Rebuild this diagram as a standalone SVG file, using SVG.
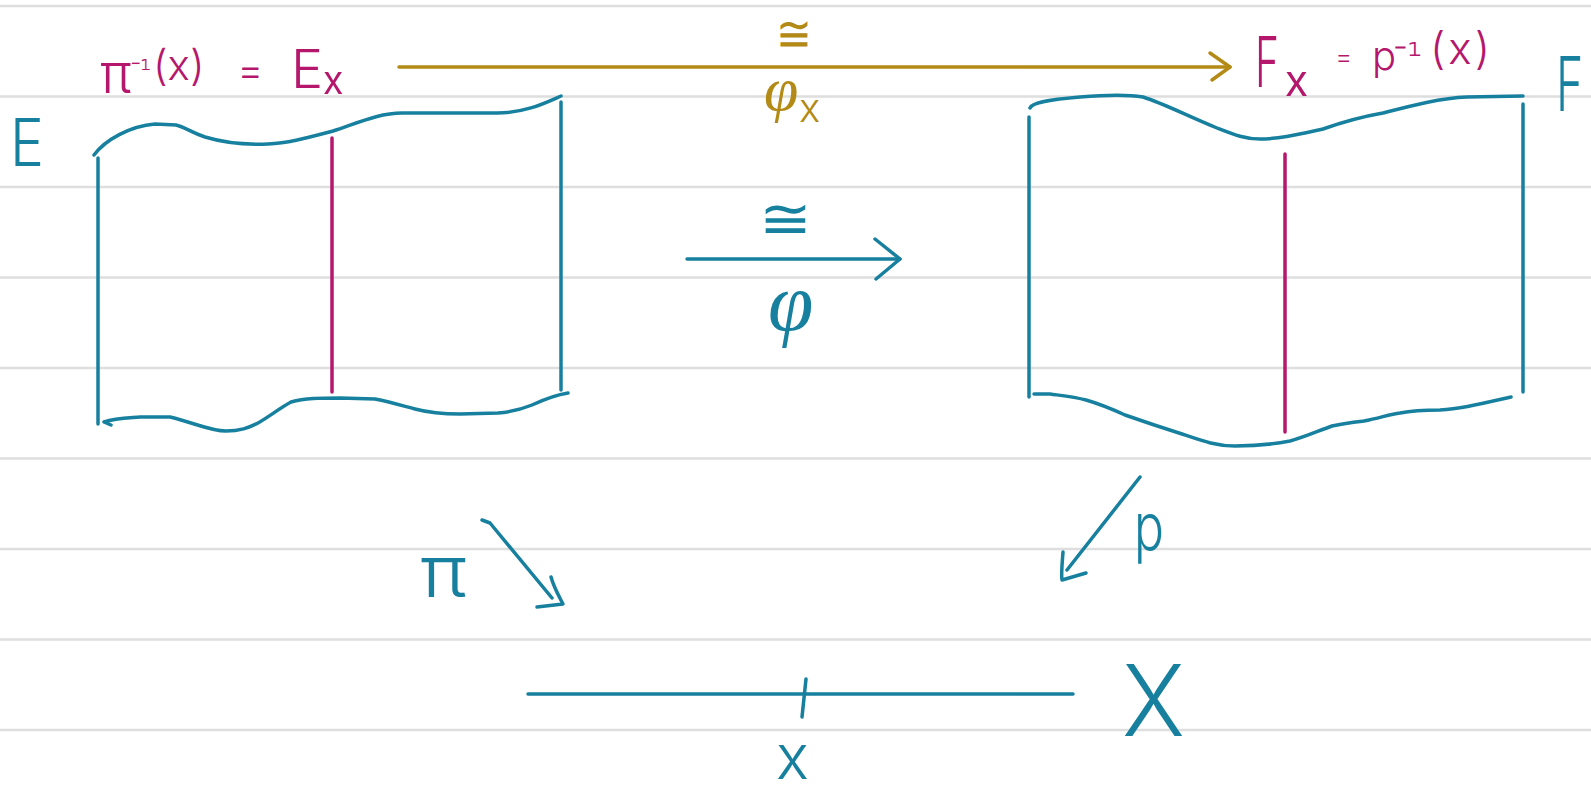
<svg xmlns="http://www.w3.org/2000/svg" width="1591" height="792" viewBox="0 0 1591 792">
<style>
.rule{stroke:#dedede;stroke-width:2.5;fill:none}
.teal{stroke:#17809f;stroke-width:3.5;fill:none;stroke-linecap:round;stroke-linejoin:round}
.mag{stroke:#b5176c;stroke-width:3.5;fill:none;stroke-linecap:round;stroke-linejoin:round}
.gold{stroke:#b38a15;stroke-width:3.5;fill:none;stroke-linecap:round;stroke-linejoin:round}
text{font-family:Inter,"DejaVu Sans",sans-serif;font-weight:300}
.tt{fill:#17809f}
.tm{fill:#b5176c}
.tg{fill:#b38a15}
.dv{font-family:"DejaVu Sans",sans-serif}
.ps{font-family:"Liberation Serif",serif;font-style:italic}
</style>
<rect width="1591" height="792" fill="#ffffff"/>
<g id="paper">
<line class="rule" x1="0" y1="6" x2="1591" y2="6"/>
<line class="rule" x1="0" y1="96.5" x2="1591" y2="96.5"/>
<line class="rule" x1="0" y1="187" x2="1591" y2="187"/>
<line class="rule" x1="0" y1="277.5" x2="1591" y2="277.5"/>
<line class="rule" x1="0" y1="368" x2="1591" y2="368"/>
<line class="rule" x1="0" y1="458.5" x2="1591" y2="458.5"/>
<line class="rule" x1="0" y1="549" x2="1591" y2="549"/>
<line class="rule" x1="0" y1="639.5" x2="1591" y2="639.5"/>
<line class="rule" x1="0" y1="730" x2="1591" y2="730"/>
</g>
<g id="node-E">
<path class="teal" d="M94,155 C105,140 130,126 155,124 L176,125 C185,127 190,132 205,137 C225,143 245,145 268,144 C290,143 310,137 333,131 C360,122 380,113 402,113 L497,113 C525,113 545,103 561,96"/>
<path class="teal" d="M98,158 L98,424"/>
<path class="teal" d="M561,102 L561,390"/>
<path class="teal" d="M111,425 L104,422 C115,418 126,418 140,417 L170,417 C195,423 210,431 226,431 C240,431 248,428 258,423 C270,416 280,408 291,402 C305,398 320,398 340,398 L375,399 C390,402 400,405 415,409 C430,413 440,414 460,414 L498,413 C512,412 522,409 532,405 C545,399 555,395 568,393"/>
<text class="tt" x="10" y="166" font-size="66" textLength="34" lengthAdjust="spacingAndGlyphs">E</text>
</g>
<g id="fiber-Ex">
<path class="mag" d="M332,138 L332,392"/>
<text class="tm" font-size="54"><tspan x="100" y="93">π</tspan><tspan class="dv" x="131" y="80" font-size="28">⁻¹</tspan><tspan x="153" y="80" font-size="42">(x)</tspan><tspan x="226" y="84" font-size="40"> = </tspan><tspan x="291" y="88">E</tspan><tspan class="dv" x="324" y="90" font-size="56">ₓ</tspan></text>
</g>
<g id="node-F">
<path class="teal" d="M1030,108 C1032,103 1045,100 1080,97 C1105,95 1125,94 1143,97 C1165,104 1185,115 1217,128 C1235,135 1245,139 1260,139 C1280,139 1300,134 1323,129 C1340,123 1360,117 1383,113 C1410,106 1440,98 1467,97 L1523,96"/>
<path class="teal" d="M1029,117 L1029,397"/>
<path class="teal" d="M1523,104 L1523,392"/>
<path class="teal" d="M1034,394 L1050,394 C1065,396 1075,397 1086,400 C1100,404 1112,409 1125,415 C1145,422 1160,427 1179,433 C1200,440 1215,446 1235,446 C1255,446 1275,444 1290,441 C1305,437 1318,431 1332,426 C1345,423 1355,422 1364,421 C1380,418 1390,414 1400,413 C1415,410 1430,410 1440,410 C1460,409 1480,404 1511,397"/>
<text class="tt" transform="translate(1556,111) scale(0.62,1)" x="0" y="0" font-size="75">F</text>
</g>
<g id="fiber-Fx">
<path class="mag" d="M1285,154 L1285,432"/>
<text class="tm" font-size="70"><tspan x="1255" y="87" textLength="24" lengthAdjust="spacingAndGlyphs">F</tspan><tspan class="dv" x="1286" y="92" font-size="64">ₓ</tspan><tspan x="1328" y="66" font-size="26"> = </tspan><tspan x="1372" y="70" font-size="40">p</tspan><tspan class="dv" x="1394" y="70" font-size="38">⁻¹</tspan><tspan x="1430" y="64" font-size="44" letter-spacing="3">(x)</tspan></text>
</g>
<g id="node-X">
<path class="teal" d="M528,694 L1073,694"/>
<path class="teal" d="M806,679 L802,717"/>
<text class="tt" x="776" y="779" font-size="62">x</text>
<text class="tt" x="1122" y="736" font-size="99" textLength="63" lengthAdjust="spacingAndGlyphs">X</text>
</g>
<g id="connectors">
<g id="edge-phi-x">
<path class="gold" d="M399,67 L1230,67"/>
<path class="gold" d="M1210,53 L1230,67 L1212,80"/>
<text class="tg dv" x="776" y="51" font-size="50" textLength="36" lengthAdjust="spacingAndGlyphs">≅</text>
<text class="tg" font-size="62"><tspan class="ps" x="764" y="110">φ</tspan><tspan x="799" y="122" font-size="40">x</tspan></text>
</g>
<g id="edge-phi">
<path class="teal" d="M687,259 L900,259"/>
<path class="teal" d="M875,239 L900,259 L876,279"/>
<text class="tt dv" x="759" y="238" font-size="56" textLength="53" lengthAdjust="spacingAndGlyphs">≅</text>
<text class="tt ps" x="768" y="330" font-size="82">φ</text>
</g>
<g id="edge-pi">
<path class="teal" d="M482,520 L490,523 L552,598"/>
<path class="teal" d="M551,577 C554,588 560,598 563,604 L537,607"/>
<text class="tt" x="420" y="597" font-size="72" textLength="47" lengthAdjust="spacingAndGlyphs">π</text>
</g>
<g id="edge-p">
<path class="teal" d="M1140,477 L1067,570"/>
<path class="teal" d="M1063,552 C1062,565 1061,575 1062,580 L1086,573"/>
<text class="tt" x="1134" y="550" font-size="66" textLength="30" lengthAdjust="spacingAndGlyphs">p</text>
</g>
</g>
</svg>
